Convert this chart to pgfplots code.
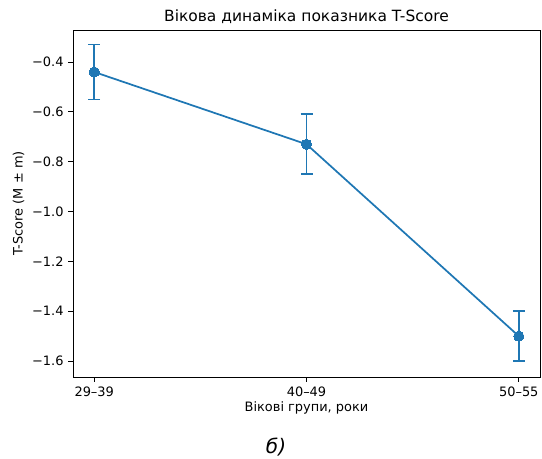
\documentclass[border=0pt]{standalone}
\usepackage{pgfplots}
\pgfplotsset{compat=1.18}
\usepackage{fontspec}
\setmainfont{DejaVu Sans}
\definecolor{mplblue}{HTML}{1F77B4}
\begin{document}
\begin{tikzpicture}[x=0.75pt,y=0.75pt]
\path[use as bounding box] (-73,-82) rectangle (469,30+347);
\begin{axis}[
  at={(0,0)}, anchor=south west,
  scale only axis, width=350.25pt, height=260.25pt,
  xmin=-0.1, xmax=2.1, ymin=-1.664, ymax=-0.2715,
  xtick={0,1,2}, xticklabels={29–39,40–49,50–55},
  ytick={-1.6,-1.4,-1.2,-1.0,-0.8,-0.6,-0.4},
  yticklabels={−1.6,−1.4,−1.2,−1.0,−0.8,−0.6,−0.4},
  tick align=outside, tick pos=left,
  major tick length=3.6pt,
  every tick/.style={black, line width=0.6pt},
  axis line style={line width=0.6pt},
  tick label style={font=\fontsize{9.7}{11}\selectfont},
  label style={font=\fontsize{9.7}{11}\selectfont},
  title style={font=\fontsize{11.6}{13}\selectfont, yshift=-5pt},
  title={Вікова динаміка показника T-Score},
  xlabel={Вікові групи, роки},
  ylabel={T-Score (M ± m)},
  xlabel style={yshift=3pt},
  ylabel style={yshift=-1pt},
]
\addplot[color=mplblue, line width=1.3pt, mark=*, mark size=3.8pt,
  mark options={fill=mplblue, draw=mplblue, line width=0pt},
  error bars/.cd, y dir=both, y explicit,
  error bar style={line width=1.3pt, mplblue},
  error mark options={rotate=90, mplblue, line width=1.3pt, mark size=4.5pt}]
  coordinates {
  (0,-0.44) +- (0,0.11)
  (1,-0.73) +- (0,0.12)
  (2,-1.50) +- (0,0.10)
  };
\end{axis}
\node[font=\fontsize{15}{17}\selectfont\itshape] at (203,-70) {б)};
\end{tikzpicture}
\end{document}
